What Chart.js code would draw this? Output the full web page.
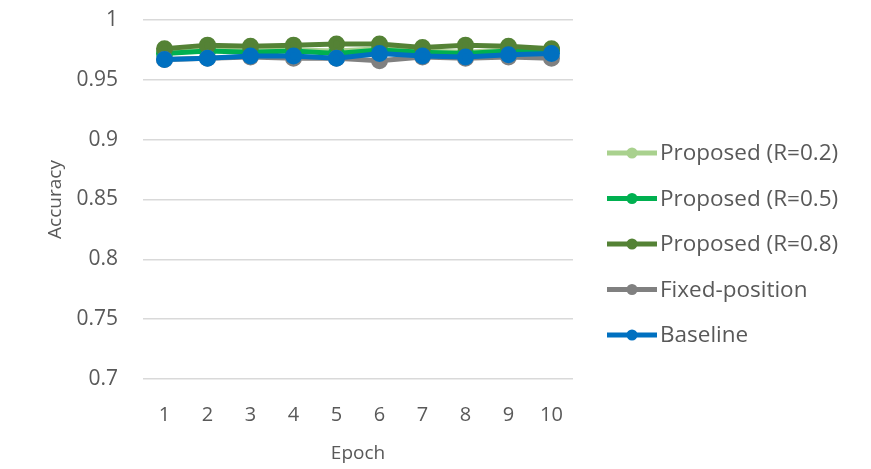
<!DOCTYPE html>
<html>
<head>
<meta charset="utf-8">
<script src="https://cdn.jsdelivr.net/npm/chart.js@4"></script>
<style>
  body { margin: 0; background: #fff; }
  #wrap { width: 871px; height: 469px; }
</style>
</head>
<body>
<div id="wrap"><canvas id="accChart"></canvas></div>
<script>
var epochs = ['1', '2', '3', '4', '5', '6', '7', '8', '9', '10'];
var seriesNames = ['Proposed (R=0.2)', 'Proposed (R=0.5)', 'Proposed (R=0.8)', 'Fixed-position', 'Baseline'];
var proposed02 = [0.973, 0.975, 0.974, 0.975, 0.974, 0.976, 0.974, 0.973, 0.975, 0.975];
var proposed05 = [0.972, 0.974, 0.973, 0.974, 0.972, 0.975, 0.973, 0.972, 0.974, 0.975];
var proposed08 = [0.976, 0.979, 0.978, 0.979, 0.980, 0.980, 0.977, 0.979, 0.978, 0.976];
var fixedPos = [0.967, 0.968, 0.969, 0.968, 0.968, 0.966, 0.969, 0.968, 0.969, 0.968];
var baseline = [0.967, 0.968, 0.970, 0.970, 0.968, 0.972, 0.970, 0.969, 0.971, 0.972];
var yTicks = [0.7, 0.75, 0.8, 0.85, 0.9, 0.95, 1];

var colors = ['#a9d18e', '#00b050', '#548235', '#808080', '#0070c0'];
var allValues = [proposed02, proposed05, proposed08, fixedPos, baseline];
var fontFamily = "'Open Sans', 'Noto Sans', sans-serif";
var textColor = '#595959';

var datasets = allValues.map(function (vals, i) {
    return {
        label: seriesNames[i],
        data: vals,
        borderColor: colors[i],
        backgroundColor: colors[i],
        borderWidth: 5,
        pointRadius: 6,
        pointHoverRadius: 6,
        tension: 0,
        order: 4 - i
    };
});

// legend drawn like the office one: short line with a dot, then the name
var sideLegend = {
    id: 'sideLegend',
    afterDraw: function (chart) {
        var ctx = chart.ctx;
        var x0 = 607, y0 = 153, gap = 45.5;
        ctx.save();
        ctx.font = '22.5px ' + fontFamily;
        ctx.textBaseline = 'middle';
        chart.data.datasets.forEach(function (ds, i) {
            var y = y0 + i * gap;
            ctx.strokeStyle = ds.borderColor;
            ctx.lineWidth = 5;
            ctx.beginPath();
            ctx.moveTo(x0, y);
            ctx.lineTo(x0 + 50, y);
            ctx.stroke();
            ctx.fillStyle = ds.borderColor;
            ctx.beginPath();
            ctx.arc(x0 + 25, y, 5.5, 0, Math.PI * 2);
            ctx.fill();
            ctx.fillStyle = textColor;
            ctx.fillText(ds.label, x0 + 53, y + 1);
        });
        ctx.restore();
    }
};

new Chart(document.getElementById('accChart'), {
    type: 'line',
    data: { labels: epochs, datasets: datasets },
    options: {
        responsive: true,
        maintainAspectRatio: false,
        animation: false,
        layout: { padding: { top: 20, right: 298, left: 40, bottom: 0 } },
        plugins: {
            legend: { display: false },
            tooltip: { enabled: false }
        },
        scales: {
            x: {
                offset: true,
                grid: { display: false, offset: true },
                border: { display: false },
                ticks: { color: textColor, font: { family: fontFamily, size: 20 }, padding: 16 },
                title: { display: true, text: 'Epoch', color: textColor, font: { family: fontFamily, size: 19 }, padding: { top: 2 } },
                afterFit: function (s) { s.height = 90; }
            },
            y: {
                min: 0.7,
                max: 1,
                afterBuildTicks: function (s) {
                    s.ticks = yTicks.map(function (v) { return { value: v }; });
                },
                grid: { color: '#d9d9d9', lineWidth: 1.5, drawTicks: false },
                border: { display: false },
                ticks: {
                    color: textColor,
                    font: { family: fontFamily, size: 21 },
                    padding: 25,
                    callback: function (v) { return String(+v.toFixed(2)); }
                },
                title: { display: true, text: 'Accuracy', color: textColor, font: { family: fontFamily, size: 19 }, padding: { bottom: 4 } },
                afterFit: function (s) {
                    s.width = 103;
                    s.paddingTop = 0;
                    s.paddingBottom = 0;
                }
            }
        }
    },
    plugins: [sideLegend]
});
</script>
</body>
</html>
